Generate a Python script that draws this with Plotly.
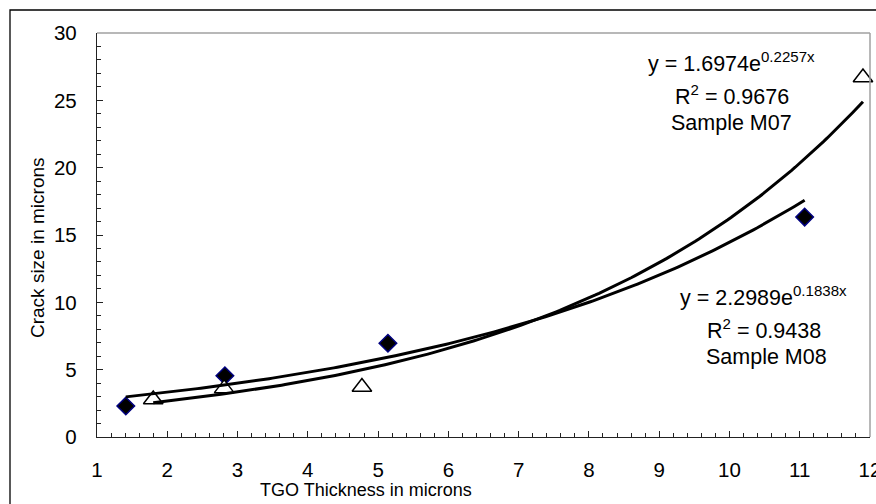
import numpy as np
import plotly.graph_objects as go

# ---- data ----
m08_x = [1.41, 2.82, 5.14, 11.07]
m08_y = [2.30, 4.55, 6.96, 16.33]
m07_x = [1.80, 2.81, 4.77, 11.90]
m07_y = [2.78, 3.61, 3.71, 26.7]

# exponential trend line coefficients shown on the chart: y = a * exp(b x)
m07_fit = {"a": 1.6974, "b": 0.2257, "r2": 0.9676}
m08_fit = {"a": 2.2989, "b": 0.1838, "r2": 0.9438}

x_ticks = list(range(1, 13))
y_ticks = [0, 5, 10, 15, 20, 25, 30]

# ---- layout geometry (pixels) ----
W, H = 876, 504
L, R, T, B = 97, 6, 33, 67
PW, PH = W - L - R, H - T - B


def px(xp):
    return (xp - L) / PW


def py(yp):
    return (H - B - yp) / PH


FONT = "Liberation Sans, Arial, sans-serif"

fig = go.Figure()

fig.add_trace(go.Scatter(
    x=m08_x, y=m08_y, mode="markers", name="Sample M08",
    marker=dict(symbol="diamond", size=13.5, color="black",
                line=dict(color="#000080", width=1.5)),
    cliponaxis=False, showlegend=False))
fig.add_trace(go.Scatter(
    x=m07_x, y=m07_y, mode="markers", name="Sample M07",
    marker=dict(symbol="triangle-up", size=17, color="white",
                line=dict(color="black", width=1.5)),
    cliponaxis=False, showlegend=False))

for xs, fit in ((m07_x, m07_fit), (m08_x, m08_fit)):
    xx = np.linspace(min(xs), max(xs), 200)
    yy = fit["a"] * np.exp(fit["b"] * xx)
    fig.add_trace(go.Scatter(x=xx, y=yy, mode="lines",
                             line=dict(color="black", width=3),
                             showlegend=False, hoverinfo="skip"))

ann = []
blocks = [
    (m07_fit, "M07", [(731, 62), (732, 95), (731, 123)]),
    (m08_fit, "M08", [(763, 296), (764, 329), (766, 357)]),
]
for fit, name, pos in blocks:
    texts = [
        f"y = {fit['a']:.4f}e<sup>{fit['b']:.4f}x</sup>",
        f"R<sup>2</sup> = {fit['r2']:.4f}",
        f"Sample {name}",
    ]
    for t, (xp, yp) in zip(texts, pos):
        ann.append(dict(text=t, x=px(xp), y=py(yp), xref="paper", yref="paper",
                        xanchor="center", yanchor="middle", showarrow=False,
                        font=dict(family=FONT, size=21.5, color="black")))

ann.append(dict(text="TGO Thickness in microns", x=px(366), y=py(490),
                xref="paper", yref="paper", xanchor="center", yanchor="middle",
                showarrow=False, font=dict(family=FONT, size=18, color="black")))
ann.append(dict(text="Crack size in microns", x=px(37), y=py(248),
                xref="paper", yref="paper", xanchor="center", yanchor="middle",
                textangle=-90, showarrow=False,
                font=dict(family=FONT, size=19, color="black")))

shapes = [
    # outer chart border (extends past the window on right/bottom)
    dict(type="rect", xref="paper", yref="paper",
         x0=px(10), y0=py(515), x1=px(890), y1=py(10),
         line=dict(color="black", width=1.3), fillcolor="rgba(0,0,0,0)", layer="below"),
    # plot area top / right border in gray
    dict(type="line", xref="paper", yref="paper", x0=0, x1=1, y0=1, y1=1,
         line=dict(color="#a0a0a0", width=1.5)),
    dict(type="line", xref="paper", yref="paper", x0=1, x1=1, y0=0, y1=1,
         line=dict(color="#a0a0a0", width=1.5)),
]

axis_common = dict(showgrid=False, zeroline=False, showline=True,
                   linecolor="#222", linewidth=1.3, ticks="inside",
                   tickcolor="#222", tickwidth=1.2, ticklen=6,
                   ticklabeloverflow="allow", automargin=False,
                   tickfont=dict(family=FONT, size=20.5, color="black"))

fig.update_layout(
    width=W, height=H,
    margin=dict(l=L, r=R, t=T, b=B, pad=0, autoexpand=False),
    paper_bgcolor="white", plot_bgcolor="white",
    xaxis=dict(range=[1, 12], tickvals=x_ticks, ticktext=[str(v) for v in x_ticks],
               ticklabelstandoff=14,
               minor=dict(ticks="inside", dtick=0.2, ticklen=4,
                          tickcolor="#222", tickwidth=1), **axis_common),
    yaxis=dict(range=[0, 30], tickvals=y_ticks, ticktext=[str(v) for v in y_ticks],
               ticklabelstandoff=15,
               minor=dict(ticks="inside", dtick=1, ticklen=4,
                          tickcolor="#222", tickwidth=1), **axis_common),
    annotations=ann, shapes=shapes,
)

fig.write_html("out.html")
